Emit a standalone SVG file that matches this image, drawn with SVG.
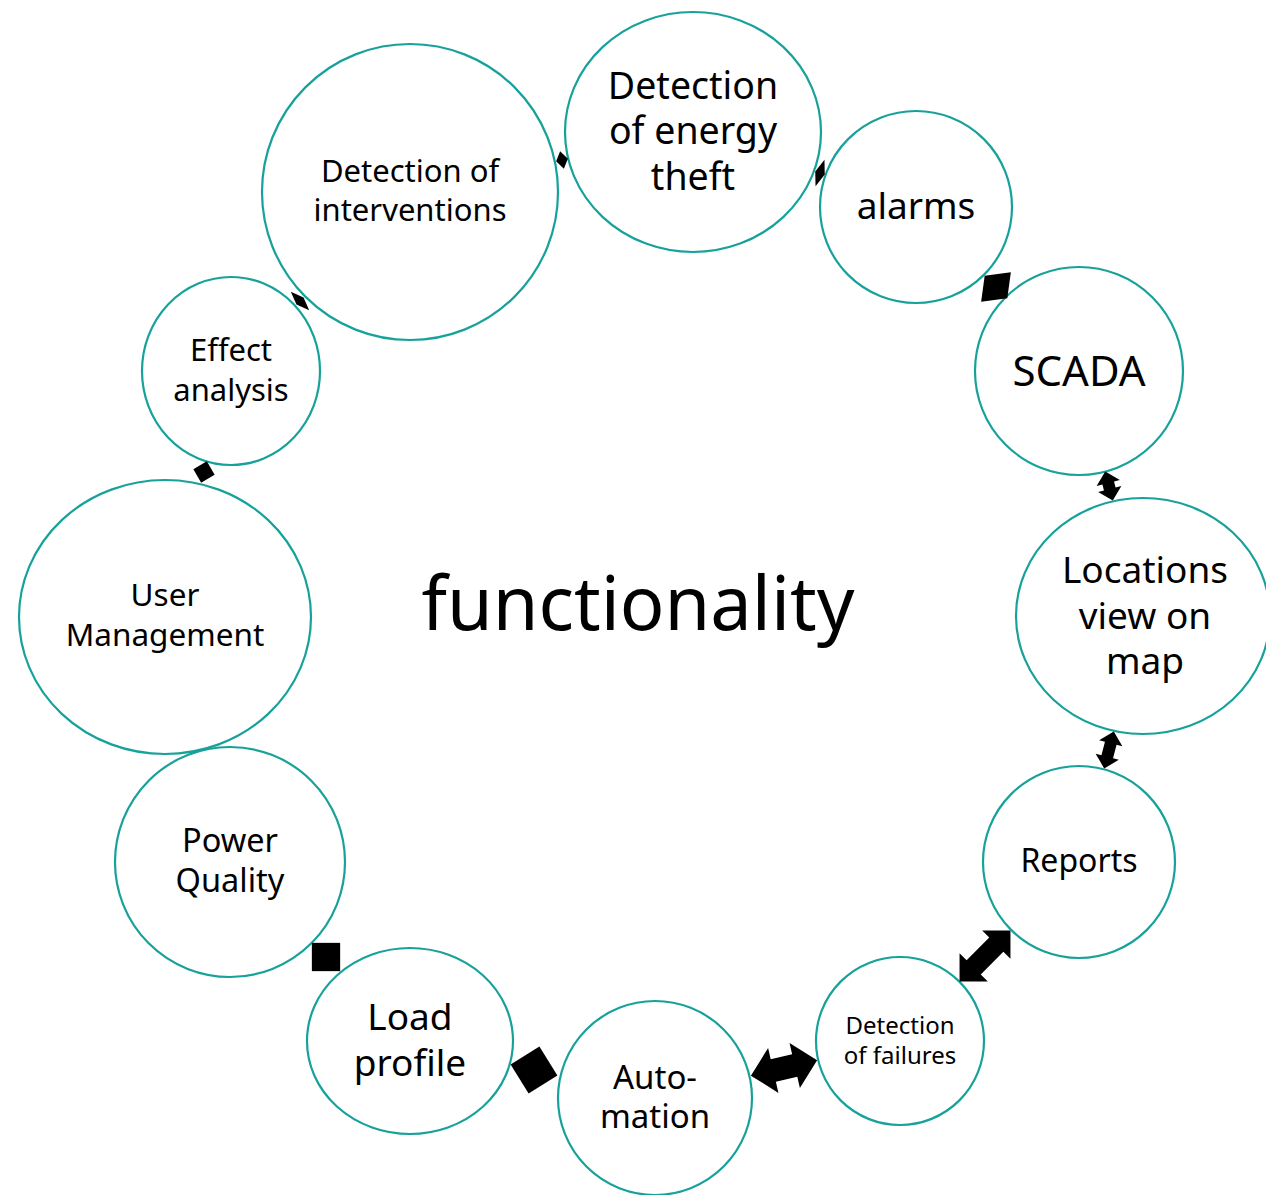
<svg xmlns="http://www.w3.org/2000/svg" width="1266" height="1195" viewBox="0 0 1266 1195">
<style>
.n{fill:#fff;stroke:#17a19b;stroke-width:2.2}
.t{font-family:"Noto Sans","Open Sans","DejaVu Sans",sans-serif;fill:#000;text-anchor:middle}
.a{fill:#000;stroke:none}
</style>
<rect width="1266" height="1195" fill="#fff"/>
<text class="t" x="638" y="630" font-size="74">functionality</text>
<g id="n-theft"><ellipse class="n" cx="693" cy="132" rx="128" ry="120"/>
<text class="t" font-size="37.5"><tspan x="693" y="99">Detection</tspan><tspan x="693" y="144">of energy</tspan><tspan x="693" y="190">theft</tspan></text></g>
<g id="n-alarms"><circle class="n" cx="916" cy="207" r="96"/>
<text class="t" font-size="37" x="916" y="219">alarms</text></g>
<g id="n-scada"><circle class="n" cx="1079" cy="371" r="104"/>
<text class="t" font-size="42" x="1079" y="386">SCADA</text></g>
<g id="n-locations"><ellipse class="n" cx="1143" cy="616" rx="127" ry="118"/>
<text class="t" font-size="37"><tspan x="1145" y="583">Locations</tspan><tspan x="1145" y="629">view on</tspan><tspan x="1145" y="674">map</tspan></text></g>
<g id="n-reports"><circle class="n" cx="1079" cy="862" r="96"/>
<text class="t" font-size="32" x="1079" y="872">Reports</text></g>
<g id="n-failures"><circle class="n" cx="900" cy="1041" r="84"/>
<text class="t" font-size="24"><tspan x="900" y="1034">Detection</tspan><tspan x="900" y="1064">of failures</tspan></text></g>
<g id="n-automation"><circle class="n" cx="655" cy="1098" r="97"/>
<text class="t" font-size="33"><tspan x="655" y="1089">Auto-</tspan><tspan x="655" y="1128">mation</tspan></text></g>
<g id="n-load"><ellipse class="n" cx="410" cy="1041" rx="103" ry="93"/>
<text class="t" font-size="37"><tspan x="410" y="1030">Load</tspan><tspan x="410" y="1076">profile</tspan></text></g>
<g id="n-power"><circle class="n" cx="230" cy="862" r="115"/>
<text class="t" font-size="32.5"><tspan x="230" y="852">Power</tspan><tspan x="230" y="892">Quality</tspan></text></g>
<g id="n-user"><ellipse class="n" cx="165" cy="617" rx="146" ry="137"/>
<text class="t" font-size="31.5"><tspan x="165" y="606">User</tspan><tspan x="165" y="646">Management</tspan></text></g>
<g id="n-effect"><ellipse class="n" cx="231" cy="371" rx="89" ry="94"/>
<text class="t" font-size="31"><tspan x="231" y="361">Effect</tspan><tspan x="231" y="401">analysis</tspan></text></g>
<g id="n-interventions"><circle class="n" cx="410" cy="192" r="148"/>
<text class="t" font-size="31"><tspan x="410" y="182">Detection of</tspan><tspan x="410" y="221">interventions</tspan></text></g>
<g id="connectors">
<polygon class="a" points="-6,0 0,-9 6,0 0,9" transform="translate(562,160) rotate(-12)"/>
<polygon class="a" points="-5,0 0,-14 5,0 0,14" transform="translate(820,173) rotate(18.6)"/>
<polygon class="a" points="-16,0 0,-21 16,0 0,21" transform="translate(996,287) rotate(45)"/>
<polygon class="a" points="-15,0 -3,-12 -3,-6 3,-6 3,-12 15,0 3,12 3,6 -3,6 -3,12" transform="translate(1109,486) rotate(75.4)"/>
<polygon class="a" points="-19,0 -7,-12 -7,-6 7,-6 7,-12 19,0 7,12 7,6 -7,6 -7,12" transform="translate(1109,750) rotate(104.6)"/>
<polygon class="a" points="-36,0 -16,-20 -16,-10 16,-10 16,-20 36,0 16,20 16,10 -16,10 -16,20" transform="translate(985,956) rotate(135)"/>
<polygon class="a" points="-34,0 -11,-23 -11,-11.5 11,-11.5 11,-23 34,0 11,23 11,11.5 -11,11.5 -11,23" transform="translate(784,1068) rotate(-13)"/>
<polygon class="a" points="-24,0 0,-24 24,0 0,24" transform="translate(534,1070) rotate(13)"/>
<polygon class="a" points="-20,0 0,-20 20,0 0,20" transform="translate(326,957) rotate(45)"/>
<polygon class="a" points="-11,0 0,-11 11,0 0,11" transform="translate(204,472) rotate(-75)"/>
<polygon class="a" points="-5,0 0,-13 5,0 0,13" transform="translate(300,301) rotate(-45)"/>
</g>
</svg>
